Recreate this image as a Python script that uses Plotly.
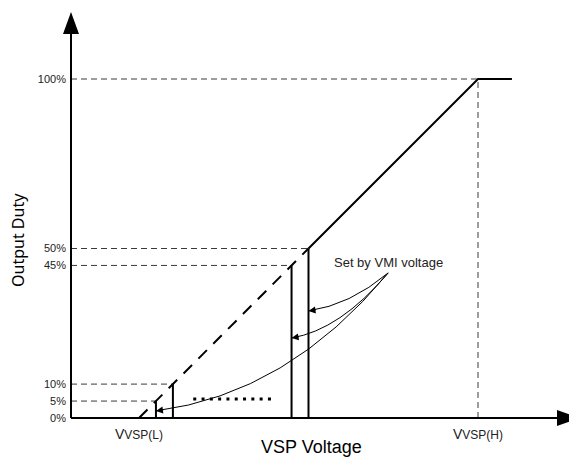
import plotly.graph_objects as go

# ---- data ---------------------------------------------------------------
duty_levels = [0, 5, 10, 45, 50, 100]
duty_labels = ["0%", "5%", "10%", "45%", "50%", "100%"]
vmi_levels = [5, 10, 45, 50]          # duty points selectable by VMI voltage
arrow_targets = [50, 45, 5]           # steps pointed to by the note
arrow_hits = [31.6, 23.6, 2.1]        # duty height where each arrow lands
arrow_ctrl = [(62.2, 33.3), (59.3, 26.0), (44.0, 7.1)]
vsp_ticks = [0, 100]
vsp_labels = ["V<span style='font-size:12px'>VSP(L)</span>",
              "V<span style='font-size:12px'>VSP(H)</span>"]
ramp_dashed_x = [0, 50]
ramp_dashed_y = [0, 50]
ramp_solid_x = [50, 100, 110]
ramp_solid_y = [50, 100, 100]
ellipsis_x = [16, 39.3]
ellipsis_y = [5.6, 5.6]
note_pos = (73.5, 46.0)

# ---- geometry -----------------------------------------------------------
W, H = 569, 459
S = 3.39                 # pixels per unit on both axes
OX, OY = 139, 418        # pixel position of data (0, 0)
YAX_PX = 71              # pixel column of the vertical axis


def dx(px):
    return (px - OX) / S


def dy(py):
    return (OY - py) / S


x_range = [dx(0), dx(W)]
y_range = [dy(H), dy(0)]
yax = dx(YAX_PX)

fig = go.Figure()

# guide lines (dashed, thin)
gx, gy = [], []
for lv in duty_levels[1:]:
    gx += [yax, lv, None]
    gy += [lv, lv, None]
gx += [100, 100, None]
gy += [0, 100, None]
fig.add_trace(go.Scatter(x=gx, y=gy, mode="lines", hoverinfo="skip",
                         line=dict(color="#3a3a3a", width=1, dash="6px,4px")))

# VMI step verticals
vx, vy = [], []
for lv in vmi_levels:
    vx += [lv, lv, None]
    vy += [0, lv, None]
fig.add_trace(go.Scatter(x=vx, y=vy, mode="lines", hoverinfo="skip",
                         line=dict(color="black", width=2)))

# ramp
fig.add_trace(go.Scatter(x=ramp_dashed_x, y=ramp_dashed_y, mode="lines",
                         hoverinfo="skip",
                         line=dict(color="black", width=2, dash="12px,9px")))
fig.add_trace(go.Scatter(x=ramp_solid_x, y=ramp_solid_y, mode="lines",
                         hoverinfo="skip",
                         line=dict(color="black", width=2)))

# ellipsis between the low and high steps
fig.add_trace(go.Scatter(x=ellipsis_x, y=ellipsis_y, mode="lines",
                         hoverinfo="skip",
                         line=dict(color="black", width=3, dash="3px,5.3px")))

shapes = []
# axes
shapes.append(dict(type="line", x0=yax, y0=0, x1=yax, y1=dy(34),
                   line=dict(color="black", width=2)))
shapes.append(dict(type="line", x0=yax, y0=0, x1=dx(557), y1=0,
                   line=dict(color="black", width=2)))
hw = 8 / S
shapes.append(dict(type="path",
                   path=f"M {yax - hw},{dy(34)} L {yax + hw},{dy(34)} L {yax},{dy(12)} Z",
                   fillcolor="black", line=dict(width=0)))
shapes.append(dict(type="path",
                   path=f"M {dx(557)},{hw} L {dx(557)},{-hw} L {dx(579)},0 Z",
                   fillcolor="black", line=dict(width=0)))

# curved leaders from the note
annotations = []
for tx, ty, (cx, cy) in zip(arrow_targets, arrow_hits, arrow_ctrl):
    shapes.append(dict(type="path",
                       path=f"M {note_pos[0]},{note_pos[1] - 3.2} Q {cx},{cy} {tx},{ty}",
                       line=dict(color="black", width=1)))
    sx, sy = (tx - cx) * S, -(ty - cy) * S
    n = (sx * sx + sy * sy) ** 0.5
    annotations.append(dict(x=tx, y=ty, ax=-sx / n * 9, ay=-sy / n * 9,
                            text="", showarrow=True, arrowhead=2,
                            arrowsize=1.4, arrowwidth=1, arrowcolor="black",
                            standoff=0))

annotations.append(dict(x=note_pos[0], y=note_pos[1], text="Set by VMI voltage",
                        showarrow=False, xanchor="center", yanchor="middle",
                        font=dict(family="Liberation Sans", size=13, color="#222")))
annotations.append(dict(x=dx(18), y=dy(240), text="Output Duty", textangle=-90,
                        showarrow=False, xanchor="center", yanchor="middle",
                        font=dict(family="Noto Sans", size=16, color="black")))
annotations.append(dict(x=dx(311), y=dy(447), text="VSP Voltage",
                        showarrow=False, xanchor="center", yanchor="middle",
                        font=dict(family="Liberation Sans", size=18, color="black")))

fig.update_layout(
    width=W, height=H,
    margin=dict(l=0, r=0, t=0, b=0),
    paper_bgcolor="white", plot_bgcolor="white",
    showlegend=False,
    shapes=shapes,
    annotations=annotations,
    xaxis=dict(range=x_range, showgrid=False, zeroline=False, showline=False,
               anchor="free", position=(H - OY) / H,
               tickmode="array", tickvals=vsp_ticks, ticktext=vsp_labels,
               ticks="", ticklabelstandoff=6,
               tickfont=dict(family="Liberation Sans", size=14, color="#222"),
               fixedrange=True),
    yaxis=dict(range=y_range, showgrid=False, zeroline=False, showline=False,
               anchor="free", position=YAX_PX / W,
               tickmode="array", tickvals=duty_levels, ticktext=duty_labels,
               ticks="", ticklabelstandoff=5,
               tickfont=dict(family="Liberation Sans", size=11, color="#222"),
               fixedrange=True),
)

fig.write_html("out.html", config={"displayModeBar": False})
